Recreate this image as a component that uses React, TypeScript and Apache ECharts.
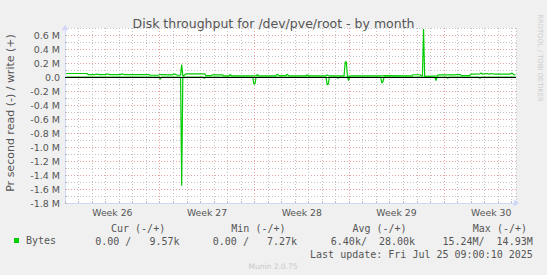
import React, { useEffect, useRef } from 'react';
import * as echarts from 'echarts';

// x values: hours since Sun 2025-06-22 00:00 (week boundary)
const weekLabels = ['Week 26', 'Week 27', 'Week 28', 'Week 29', 'Week 30'];

const writeHours = [
  2, 39, 41, 53, 55, 62, 73, 75, 78, 99, 101, 105, 149, 151, 165, 169, 190, 193, 200, 205,
  207, 209, 215, 248, 250, 259, 261, 280, 282, 291, 293, 296, 339, 341, 344, 374, 376, 380, 392, 394,
  397, 428, 429, 433, 463, 465, 468, 495, 497, 499, 501, 507, 562, 568, 616, 617, 630, 632, 634, 636,
  638, 660, 662, 692, 694, 701, 703, 718, 720, 736, 738, 741, 749, 752, 757, 761, 789, 793, 796, 799,
];
const writeBytes = [
  50000, 50000, 35000, 35000, 42000, 35000, 35000, 47000, 35000, 35000, 45000, 35000, 35000, 25000, 25000, 35000, 30000, 45000, 25000, 25000,
  176000, 10000, 45000, 45000, 20000, 20000, 30000, 30000, 15000, 15000, 35000, 15000, 15000, 35000, 15000, 15000, 40000, 20000, 20000, 40000,
  15000, 15000, 30000, 15000, 15000, 30000, 15000, 15000, 215000, 215000, 10000, 15000, 15000, 20000, 15000, 32000, 32000, 15000, 15000, 686000,
  10000, 15000, 30000, 30000, 35000, 35000, 20000, 20000, 40000, 45000, 58000, 40000, 50000, 40000, 50000, 40000, 40000, 55000, 35000, 30000,
];

const readHours = [
  2, 167, 169, 171, 205, 207, 209, 245, 247, 249, 333, 335, 337, 339, 463, 465, 467, 469, 482, 484,
  486, 501, 503, 505, 560, 562, 564, 566, 656, 658, 660, 677, 679, 681, 734, 736, 738, 799,
];
const readBytes = [
  0, 0, 30000, 0, 0, 1553000, 0, 0, 20000, 0, 0, 100000, 100000, 0, 0, 110000, 100000, 0, 0, 20000,
  0, 0, 50000, 0, 0, 86000, 70000, 0, 0, 50000, 0, 0, 20000, 0, 0, 20000, 0, 0,
];

const legendHeaders = ['Cur (-/+)', 'Min (-/+)', 'Avg (-/+)', 'Max (-/+)'];
const legendValues = ['0.00 /   9.57k', '0.00 /   7.27k', '6.40k/  28.00k', '15.24M/  14.93M'];
const lastUpdate = 'Last update: Fri Jul 25 09:00:10 2025';

const GREEN = '#00CC00';
const AXIS = '#CFD6F8';
const MGRID = '#E8A0A0';
const GRID = '#C4C4C4';
const FONT = '#555555';

export default function App() {
  const ref = useRef<HTMLDivElement>(null);
  useEffect(() => {
    if (!ref.current) return;
    const chart = echarts.init(ref.current, undefined, { renderer: 'svg' });
    const writeData = writeHours.map((h, i) => [h, writeBytes[i]]);
    const readData = readHours.map((h, i) => [h, -readBytes[i]]);
    const headerX = [111, 231.3, 352.4, 472.8];
    const valueX = [95.2, 212.8, 330.8, 442.4];
    const mono = 'DejaVu Sans Mono';
    const graphics: any[] = [
      {
        type: 'text', x: 10, y: 113, rotation: Math.PI / 2,
        style: { text: 'Pr second read (-) / write (+)', fill: FONT, fontSize: 11, fontFamily: 'DejaVu Sans', align: 'center', verticalAlign: 'middle' },
      },
      {
        type: 'text', x: 540, y: 58, rotation: -Math.PI / 2,
        style: { text: 'RRDTOOL / TOBI OETIKER', fill: '#CCCCCC', fontSize: 6.8, fontFamily: 'DejaVu Sans', align: 'center', verticalAlign: 'middle' },
      },
      ...legendHeaders.map((t, i) => ({
        type: 'text', x: headerX[i], y: 228.6,
        style: { text: t, fill: FONT, fontSize: 10, fontFamily: mono, align: 'left', verticalAlign: 'middle' },
      })),
      ...legendValues.map((t, i) => ({
        type: 'text', x: valueX[i], y: 241.5,
        style: { text: t, fill: FONT, fontSize: 10, fontFamily: mono, align: 'left', verticalAlign: 'middle' },
      })),
      {
        type: 'text', x: 532.8, y: 254.1,
        style: { text: lastUpdate, fill: FONT, fontSize: 10, fontFamily: mono, align: 'right', verticalAlign: 'middle' },
      },
      {
        type: 'text', x: 273, y: 266.6,
        style: { text: 'Munin 2.0.75', fill: '#C8C8C8', fontSize: 7.5, fontFamily: 'DejaVu Sans', align: 'center', verticalAlign: 'middle' },
      },
    ];
    chart.setOption({
      animation: false,
      backgroundColor: '#F0F0F0',
      textStyle: { fontFamily: 'DejaVu Sans' },
      title: {
        text: 'Disk throughput for /dev/pve/root - by month',
        left: 'center', top: 12,
        textStyle: { fontSize: 12.5, fontWeight: 'normal', color: FONT, fontFamily: 'DejaVu Sans' },
      },
      legend: {
        data: ['Bytes'], left: 14, top: 235.5, icon: 'rect', itemWidth: 5, itemHeight: 5, padding: 0,
        selectedMode: false,
        textStyle: { fontFamily: mono, fontSize: 10, color: FONT, padding: [0, 0, 0, 2] },
      },
      grid: { left: 65, right: 31, top: 28, bottom: 72, show: true, backgroundColor: '#FFFFFF', borderWidth: 0 },
      xAxis: [
        {
          type: 'value', min: 0, max: 800, interval: 24,
          axisLine: { show: true, onZero: false, lineStyle: { color: AXIS }, symbol: ['none', 'arrow'], symbolSize: [6, 6], symbolOffset: [0, 3] },
          axisTick: { show: true, inside: true, length: 2, lineStyle: { color: '#BBBBBB' } },
          axisLabel: { show: false },
          splitLine: { show: true, lineStyle: { color: [MGRID, GRID, GRID, GRID, GRID, GRID, GRID], type: [1, 2], width: 1 } },
        },
        {
          type: 'value', min: 0, max: 800, interval: 84, position: 'bottom',
          axisLine: { show: false }, axisTick: { show: false }, splitLine: { show: false },
          axisLabel: {
            show: true, margin: 5, fontSize: 9.3, color: FONT,
            formatter: (v: number) => (v % 168 === 84 ? weekLabels[(v - 84) / 168] ?? '' : ''),
          },
        },
      ],
      yAxis: {
        type: 'value', min: -1800000, max: 700000, interval: 100000,
        axisLine: { show: true, onZero: false, lineStyle: { color: AXIS }, symbol: ['none', 'arrow'], symbolSize: [6, 6], symbolOffset: [0, 3] },
        axisTick: { show: true, inside: true, length: 2, lineStyle: { color: '#BBBBBB' } },
        axisLabel: {
          margin: 5, fontSize: 9.5, color: FONT,
          formatter: (v: number) => {
            const k = Math.round(v / 100000);
            if (k % 2 !== 0) return '';
            const s = (k / 10).toFixed(1);
            return k === 0 ? '0.0' : s + ' M';
          },
        },
        splitLine: { show: true, lineStyle: { color: [MGRID, GRID], type: [1, 2], width: 1 } },
      },
      series: [
        {
          name: 'Bytes', type: 'line', xAxisIndex: 0, data: writeData, showSymbol: false,
          lineStyle: { color: GREEN, width: 1.2 }, itemStyle: { color: GREEN },
        },
        {
          name: 'Bytes', type: 'line', xAxisIndex: 0, data: readData, showSymbol: false,
          lineStyle: { color: GREEN, width: 1.2 }, itemStyle: { color: GREEN },
          markLine: {
            silent: true, symbol: ['none', 'none'], label: { show: false },
            lineStyle: { color: '#000000', type: 'solid', width: 1 },
            data: [{ yAxis: 0 }],
          },
        },
      ],
      graphic: graphics,
    });
    return () => chart.dispose();
  }, []);
  return <div ref={ref} style={{ position: 'fixed', left: 0, top: 0, width: 547, height: 275 }} />;
}
